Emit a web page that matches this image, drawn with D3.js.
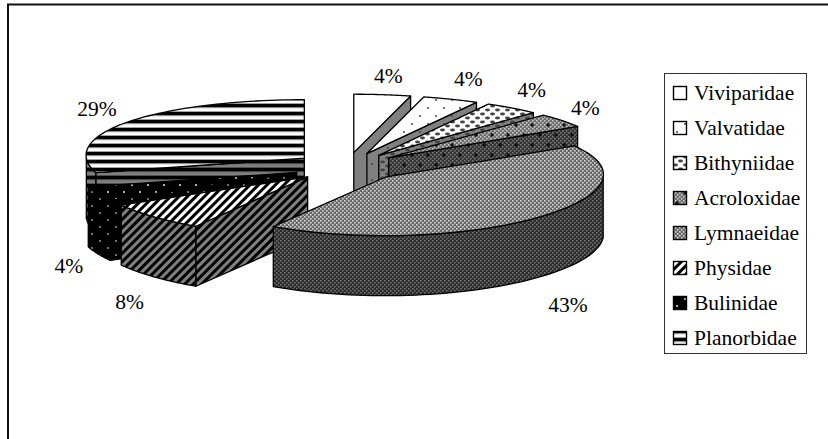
<!DOCTYPE html>
<html>
<head>
<meta charset="utf-8">
<script src="https://cdn.jsdelivr.net/npm/d3@7"></script>
<style>
  html, body { margin: 0; padding: 0; background: #fff; }
  svg { display: block; }
  text { font-family: "Liberation Serif", serif; fill: #000; }
</style>
</head>
<body>
<svg id="chart" width="828" height="439"></svg>
<script>
// Gastropod family shares, clockwise from twelve o'clock
const families = ["Viviparidae", "Valvatidae", "Bithyniidae", "Acroloxidae", "Lymnaeidae", "Physidae", "Bulinidae", "Planorbidae"];
const shares = [4, 4, 4, 4, 43, 8, 4, 29];
const percentLabels = ["4%", "4%", "4%", "4%", "43%", "8%", "4%", "29%"];

// Exploded 3D pie geometry
const W = 828, H = 439;
const center = { x: 347, y: 167 };
const radius = 218;
const tilt = 0.268;      // vertical squash of the tilted disc
const keystone = 0.05;   // slight perspective skew across the disc
const depth = 60;        // wall height
const explode = 54;

const svg = d3.select("#chart");
const defs = svg.append("defs");

const GREY = "#808080", BLACK = "#000", WHITE = "#fff";

// Each fill is drawn twice: a lit version for the top, a shaded one for the walls
function tile(id, w, h, bg, draw, transform) {
  const p = defs.append("pattern").attr("id", id).attr("patternUnits", "userSpaceOnUse")
    .attr("width", w).attr("height", h);
  if (transform) p.attr("patternTransform", transform);
  p.append("rect").attr("width", w).attr("height", h).attr("fill", bg);
  draw(p);
}
const dots = (p, pts, r, fill) =>
  pts.forEach(([x, y]) => p.append("circle").attr("cx", x).attr("cy", y).attr("r", r).attr("fill", fill));
const rects = (p, list, fill) =>
  list.forEach(([x, y, w, h]) => p.append("rect").attr("x", x).attr("y", y).attr("width", w).attr("height", h).attr("fill", fill));
const crosses = (p, pts, fill) =>
  pts.forEach(([x, y]) => rects(p, [[x - 2, y - 0.6, 4, 1.2], [x - 0.6, y - 2, 1.2, 4]], fill));

// Fine dither laid across a 4px cell
function dither(p, w, h, light) {
  for (let y = 0; y < h; y += 2) {
    for (let x = (y % 4 ? 2 : 0); x < w; x += 4) rects(p, [[x, y, 1.6, 1.6]], light);
  }
}

const fills = [
  // Viviparidae: plain
  (id, lit) => tile(id, 8, 8, lit ? WHITE : GREY, () => {}),
  // Valvatidae: sparse dots
  (id, lit) => tile(id, 16, 16, lit ? WHITE : GREY, p => dots(p, [[4, 4], [12, 12]], 1, "#444")),
  // Bithyniidae: oval dots
  (id, lit) => tile(id, 10, 8, lit ? WHITE : GREY, p => {
    [[2.5, 2], [7.5, 6]].forEach(([x, y]) => p.append("ellipse").attr("cx", x).attr("cy", y)
      .attr("rx", 2.5).attr("ry", 1.4).attr("fill", "#444"));
  }),
  // Acroloxidae: grey dither with crosses
  (id, lit) => tile(id, 16, 20, lit ? "#6e6e6e" : "#333", p => {
    dither(p, 16, 20, lit ? "#c8c8c8" : "#777");
    crosses(p, [[4, 5], [12, 15]], BLACK);
  }),
  // Lymnaeidae: grey dither
  (id, lit) => tile(id, 4, 4, lit ? "#666" : "#2c2c2c", p => dither(p, 4, 4, lit ? "#d8d8d8" : "#707070")),
  // Physidae: diagonal hatch
  (id, lit) => tile(id, 6, 6, lit ? WHITE : GREY, p => rects(p, [[0, 0, 3, 6]], BLACK), "rotate(45)"),
  // Bulinidae: black with pale dots
  (id, lit) => tile(id, 16, 14, BLACK, p => dots(p, [[4, 3], [12, 10]], 1, lit ? "#e8e8e8" : "#999")),
  // Planorbidae: horizontal bars
  (id, lit) => tile(id, 8, 8, lit ? WHITE : GREY, p => {
    rects(p, [[0, 0, 8, 3.4]], BLACK);
    rects(p, [[0, 3.4, 8, 0.8], [0, 7.2, 8, 0.8]], lit ? "#888" : "#444");
  })
];
fills.forEach((make, i) => {
  make(`top${i}`, true);
  make(`wall${i}`, false);
});

// Angles from the pie layout, in radians clockwise from the top
const slices = d3.pie().sort(null).value(d => d)(shares)
  .map((s, i) => ({ ...s, i, mid: (s.startAngle + s.endAngle) / 2 }));

const project = (apex, a, r = radius, drop = 0) => [
  apex.x + r * Math.sin(a) * (1 + keystone * Math.cos(a)),
  apex.y - r * tilt * Math.cos(a) + drop
];
const apexOf = s => ({
  x: center.x + explode * Math.sin(s.mid),
  y: center.y - explode * tilt * Math.cos(s.mid)
});
const line = d3.line();
const arcPoints = (apex, a0, a1, drop = 0) =>
  d3.range(0, 61).map(k => project(apex, a0 + (a1 - a0) * k / 60, radius, drop));

function drawSlice(s) {
  const apex = apexOf(s);
  const g = svg.append("g").attr("class", "slice");
  const wall = `url(#wall${s.i})`, top = `url(#top${s.i})`;
  const shape = (pts, fill) => g.append("path").attr("d", line(pts) + "Z").attr("fill", fill)
    .attr("stroke", BLACK).attr("stroke-width", 1.3).attr("stroke-linejoin", "round");

  // Cut faces that turn toward the viewer
  const faces = [];
  if (s.startAngle > Math.PI && s.startAngle < 1.5 * Math.PI) faces.push(s.startAngle);
  if (s.endAngle < Math.PI / 2) faces.push(s.endAngle);
  faces.forEach(a => {
    const o = project(apex, a);
    shape([[apex.x, apex.y], o, [o[0], o[1] + depth], [apex.x, apex.y + depth]], wall);
  });

  // Outer rim, only the front half of the disc shows
  const r0 = Math.max(s.startAngle, Math.PI / 2), r1 = Math.min(s.endAngle, 3 * Math.PI / 2);
  if (r1 > r0) {
    shape([...arcPoints(apex, r0, r1), ...arcPoints(apex, r1, r0, depth)], wall);
  }

  // Top face
  shape([[apex.x, apex.y], ...arcPoints(apex, s.startAngle, s.endAngle)], top);
}

// Back-to-front painting order
[7, 6, 5, 0, 1, 2, 3, 4].forEach(i => drawSlice(slices[i]));

// Percentage labels sit just outside each slice's rim
const labelRadius = radius + 22;
const labelNudges = [[3, -6], [9, -8], [6, -6], [6, -2], [19, 89], [-9, 88], [-9, 77], [-12, -3]];
svg.append("g").selectAll("text").data(slices).join("text")
  .attr("text-anchor", "middle")
  .attr("font-size", 21.5)
  .each(function (s) {
    const [x, y] = project(apexOf(s), s.mid, labelRadius);
    const [nx, ny] = labelNudges[s.i];
    d3.select(this).attr("x", x + nx).attr("y", y + ny);
  })
  .text(s => percentLabels[s.i]);

// Legend
const legend = { x: 664, y: 73, w: 142, h: 280, rowH: 35, firstRow: 20 };
const lg = svg.append("g");
lg.append("rect").attr("x", legend.x + 0.5).attr("y", legend.y + 0.5).attr("width", legend.w).attr("height", legend.h)
  .attr("fill", WHITE).attr("stroke", "#333").attr("stroke-width", 1);
const rowY = d3.scaleLinear().domain([0, 1]).range([legend.y + legend.firstRow, legend.y + legend.firstRow + legend.rowH]);
const row = lg.selectAll("g").data(families).join("g").attr("transform", (d, i) => `translate(${legend.x + 9},${rowY(i)})`);
row.append("rect").attr("x", 0.5).attr("y", -6.5).attr("width", 13).attr("height", 13)
  .attr("fill", (d, i) => `url(#top${i})`).attr("stroke", BLACK).attr("stroke-width", 1.4);
row.append("text").attr("x", 21).attr("y", 6.5).attr("font-size", 21.5).text(d => d);

// Outer frame of the chart area
svg.append("path").attr("d", `M8,${H}V4.5H${W}`).attr("fill", "none").attr("stroke", "#111").attr("stroke-width", 2);
</script>
</body>
</html>
